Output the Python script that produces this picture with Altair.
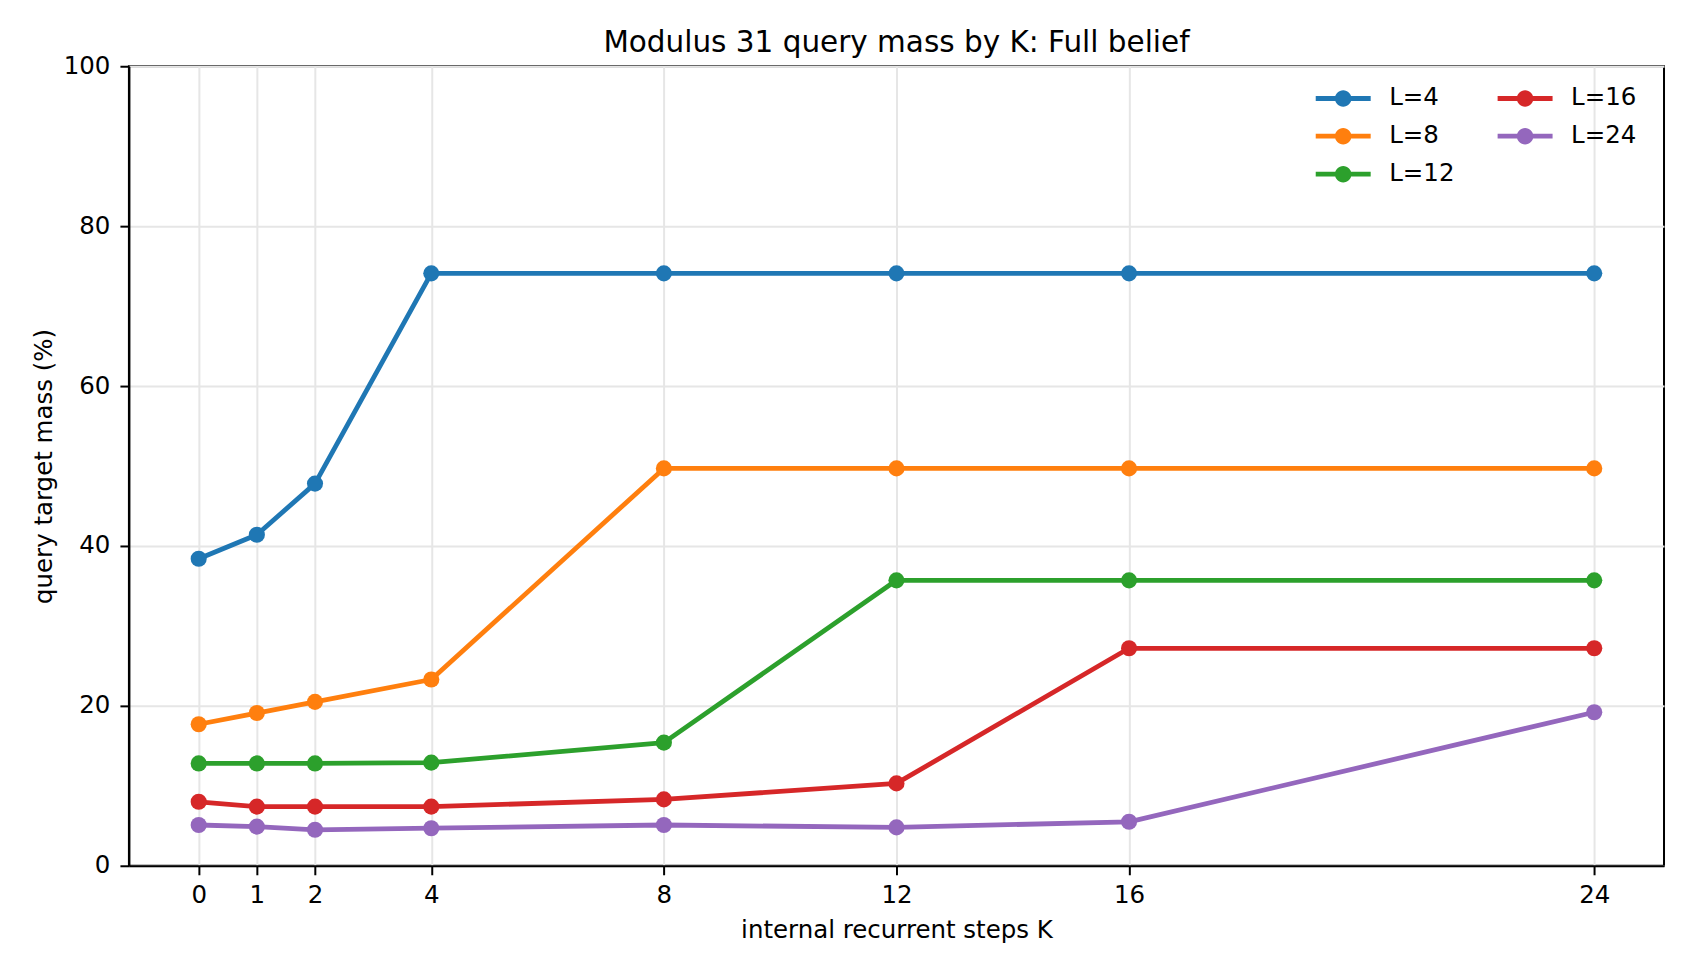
import altair as alt
import pandas as pd

K = [0, 1, 2, 4, 8, 12, 16, 24]
series = ["L=4", "L=8", "L=12", "L=16", "L=24"]
L4 = [38.4, 41.4, 47.8, 74.1, 74.1, 74.1, 74.1, 74.1]
L8 = [17.7, 19.1, 20.5, 23.3, 49.7, 49.7, 49.7, 49.7]
L12 = [12.8, 12.8, 12.8, 12.9, 15.4, 35.7, 35.7, 35.7]
L16 = [8.0, 7.4, 7.4, 7.4, 8.3, 10.3, 27.2, 27.2]
L24 = [5.1, 4.9, 4.5, 4.7, 5.1, 4.8, 5.5, 19.2]
colors = ["#1f77b4", "#ff7f0e", "#2ca02c", "#d62728", "#9467bd"]

rows = []
for name, vals in zip(series, [L4, L8, L12, L16, L24]):
    for k, v in zip(K, vals):
        rows.append({"K": k, "mass": v, "L": name})
df = pd.DataFrame(rows)

FONT = "DejaVu Sans"
# line with a dot, drawn with fill only
SYMBOL = ("M-2,-0.175L2,-0.175L2,0.175L-2,0.175Z "
          "M-0.6,0A0.6,0.6 0 1,1 0.6,0A0.6,0.6 0 1,1 -0.6,0Z")

x = alt.X("K:Q",
          scale=alt.Scale(domain=[-1.2, 25.2], nice=False, zero=False),
          axis=alt.Axis(values=K, title="internal recurrent steps K",
                        labelBaseline="alphabetic", labelPadding=28,
                        titleBaseline="alphabetic", titleY=72))
y = alt.Y("mass:Q",
          scale=alt.Scale(domain=[0, 100], nice=False),
          axis=alt.Axis(values=[0, 20, 40, 60, 80, 100], title="query target mass (%)",
                        labelPadding=10, titleAngle=270, titleBaseline="alphabetic",
                        titleX=-77, titleY=400, titleAlign="center"))

# reversed domain keeps this scale apart from the legend's fill scale
lines = alt.Chart(df).mark_line(strokeWidth=4.8, strokeJoin="round").encode(
    x=x, y=y,
    color=alt.Color("L:N", scale=alt.Scale(domain=series[::-1], range=colors[::-1]),
                    legend=None),
    order=alt.Order("K:Q"),
)

points = alt.Chart(df).mark_point(filled=True, size=260, opacity=1, shape="circle").encode(
    x=x, y=y,
    fill=alt.Fill("L:N", scale=alt.Scale(domain=series, range=colors),
                  legend=alt.Legend(orient="none", legendX=1201, legendY=18, columns=2,
                                    title=None, symbolType=SYMBOL, symbolSize=756,
                                    symbolStrokeWidth=0, symbolOpacity=1, labelOffset=32,
                                    rowPadding=12, columnPadding=42, padding=0,
                                    labelFont=FONT, labelFontSize=24.5, labelColor="black")),
)

chart = alt.layer(lines, points).properties(
    width=1536,
    height=800,
    autosize=alt.AutoSizeParams(type="none"),
    padding={"left": 121, "top": 58, "right": 20, "bottom": 90},
    title=alt.TitleParams("Modulus 31 query mass by K: Full belief", font=FONT,
                          fontSize=29.5, fontWeight="normal", color="black",
                          anchor="middle", baseline="alphabetic", offset=5, dy=33),
).configure_view(
    stroke="black", strokeWidth=2
).configure_axis(
    domainColor="black", domainWidth=2, tickColor="black", tickWidth=2, tickSize=9,
    labelFont=FONT, labelFontSize=24.5, labelColor="black",
    titleFont=FONT, titleFontSize=24.5, titleColor="black", titleFontWeight="normal",
    gridColor="#e6e6e6", gridWidth=2,
)

chart.save("out.html", embed_options={"renderer": "svg", "actions": False})
